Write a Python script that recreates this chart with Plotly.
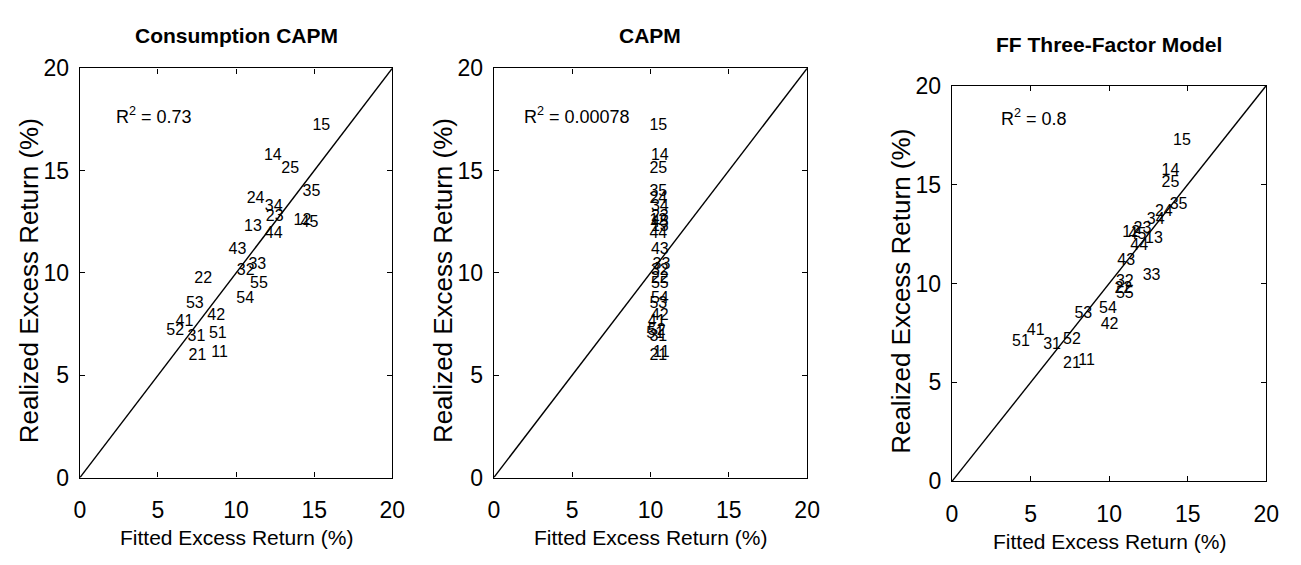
import plotly.graph_objects as go

# 25 size/book-to-market portfolios (first digit: size quintile, second: B/M quintile)
portfolios = ["11", "12", "13", "14", "15",
              "21", "22", "23", "24", "25",
              "31", "32", "33", "34", "35",
              "41", "42", "43", "44", "45",
              "51", "52", "53", "54", "55"]

# Realized average excess returns (%), shared by all three panels
realized = [6.10, 12.55, 12.27, 15.70, 17.20,
            5.95, 9.70, 12.74, 13.60, 15.08,
            6.88, 10.08, 10.40, 13.21, 13.94,
            7.59, 7.92, 11.13, 11.88, 12.45,
            7.03, 7.14, 8.48, 8.73, 9.46]

# Fitted excess returns (%) for each model
fitted_ccapm = [8.94, 14.25, 11.08, 12.35, 15.46,
                7.53, 7.89, 12.47, 11.25, 13.46,
                7.46, 10.62, 11.36, 12.41, 14.83,
                6.69, 8.73, 10.09, 12.41, 14.70,
                8.83, 6.10, 7.36, 10.58, 11.46]

fitted_capm = [10.7, 10.5, 10.6, 10.6, 10.5,
               10.5, 10.6, 10.6, 10.5, 10.5,
               10.5, 10.6, 10.7, 10.6, 10.5,
               10.4, 10.6, 10.6, 10.5, 10.6,
               10.3, 10.4, 10.5, 10.6, 10.6]

fitted_ff3 = [8.57, 11.40, 12.85, 13.90, 14.63,
              7.63, 10.90, 12.12, 13.48, 13.90,
              6.37, 11.00, 12.70, 12.96, 14.42,
              5.33, 10.03, 11.08, 11.91, 11.80,
              4.39, 7.63, 8.36, 9.92, 11.00]

panel_titles = ["Consumption CAPM", "CAPM", "FF Three-Factor Model"]
r2_values = ["0.73", "0.00078", "0.8"]
r2_pos = [(2.2, 17.7), (1.8, 17.7), (3.0, 18.4)]
tick_vals = [0, 5, 10, 15, 20]
x_title = "Fitted Excess Return (%)"
y_title = "Realized Excess Return (%)"

W, H = 1301, 565
FONT = "Liberation Sans, Arial, Helvetica, sans-serif"

# plot boxes in pixels: left, right, top, bottom
boxes = [(75, 392, 58, 487), (495, 813, 58, 487), (960, 1279, 76, 491)]


def px_x(p):
    return p / W


def px_y(p):
    return 1 - p / H


fig = go.Figure()
annotations = []
fitted_sets = [fitted_ccapm, fitted_capm, fitted_ff3]

for i, (fitted, (l, r, t, b)) in enumerate(zip(fitted_sets, boxes)):
    sfx = "" if i == 0 else str(i + 1)
    xa, ya = "x" + sfx, "y" + sfx

    # 45-degree line
    fig.add_trace(go.Scatter(x=[0, 20], y=[0, 20], mode="lines",
                             line=dict(color="black", width=1.4),
                             xaxis=xa, yaxis=ya, showlegend=False,
                             hoverinfo="skip"))
    # portfolio labels
    fig.add_trace(go.Scatter(x=fitted, y=realized, mode="text",
                             text=portfolios, textposition="middle center",
                             textfont=dict(family=FONT, size=16, color="black"),
                             xaxis=xa, yaxis=ya, showlegend=False))

    axis_common = dict(range=[0, 20], tickvals=tick_vals, showgrid=False,
                       zeroline=False, showline=True, linecolor="black",
                       linewidth=1.4, mirror="ticks", ticks="inside", ticklen=5,
                       tickcolor="black", tickwidth=1.2,
                       tickfont=dict(family=FONT, size=23, color="black"))
    fig.update_layout(**{
        "xaxis" + sfx: dict(axis_common, domain=[px_x(l), px_x(r)],
                            anchor=ya, ticklabelstandoff=12),
        "yaxis" + sfx: dict(axis_common, domain=[px_y(b), px_y(t)],
                            anchor=xa, ticklabelstandoff=5),
    })

    cx = (l + r) / 2
    # panel title
    annotations.append(dict(text=panel_titles[i], x=px_x(cx),
                            y=px_y(24 if i < 2 else 33),
                            xref="paper", yref="paper", showarrow=False,
                            xanchor="center", yanchor="middle",
                            font=dict(family=FONT, size=21, color="black",
                                      weight="bold")))
    # axis titles
    annotations.append(dict(text=x_title, x=px_x(cx), y=px_y(b + 63),
                            xref="paper", yref="paper", showarrow=False,
                            xanchor="center", yanchor="middle",
                            font=dict(family=FONT, size=21, color="black")))
    annotations.append(dict(text=y_title, x=px_x(l - 52), y=px_y((t + b) / 2 + 8),
                            xref="paper", yref="paper", showarrow=False,
                            textangle=-90, xanchor="center", yanchor="middle",
                            font=dict(family=FONT, size=26, color="black")))
    # R^2 note
    annotations.append(dict(text="R<sup>2</sup> = " + r2_values[i],
                            x=r2_pos[i][0], y=r2_pos[i][1], xref=xa, yref=ya,
                            showarrow=False, xanchor="left", yanchor="middle",
                            font=dict(family=FONT, size=18, color="black")))

fig.update_layout(width=W, height=H, margin=dict(l=0, r=0, t=0, b=0),
                  paper_bgcolor="white", plot_bgcolor="white",
                  annotations=annotations)

fig.write_html("out.html")
